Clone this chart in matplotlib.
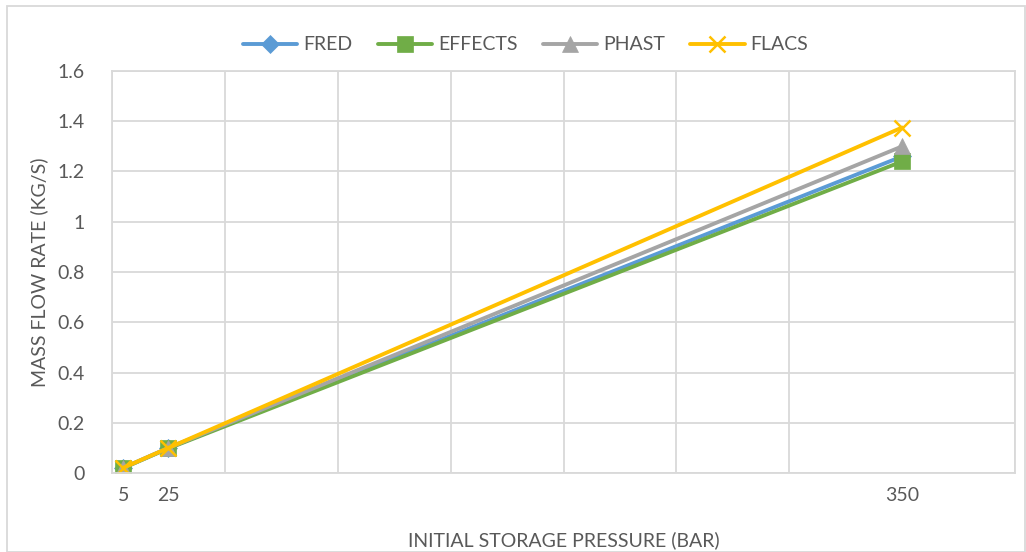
import numpy as np
import matplotlib.pyplot as plt
from matplotlib.patches import Rectangle

plt.rcParams['font.family'] = ['Lato', 'DejaVu Sans']

# data
pressure = [5, 25, 350]
fred = [0.02, 0.10, 1.26]
effects = [0.02, 0.098, 1.24]
phast = [0.021, 0.10, 1.30]
flacs = [0.021, 0.10, 1.375]

series = [
    ("FRED", fred, '#5B9BD5', 'D', 9),
    ("EFFECTS", effects, '#70AD47', 's', 11),
    ("PHAST", phast, '#A5A5A5', '^', 11),
    ("FLACS", flacs, '#FFC000', 'x', 11),
]

txt = '#595959'
fig = plt.figure(figsize=(10.26, 5.52), dpi=100)
ax = fig.add_axes([0.1092, 0.1431, 0.8801, 0.7283])

for name, vals, col, mk, ms in series:
    ax.plot(pressure, vals, color=col, lw=2.8, marker=mk, markersize=ms,
            markeredgewidth=1.8 if mk == 'x' else 0.5, markeredgecolor=col,
            label=name, solid_capstyle='round')

ax.set_xlim(0, 400)
ax.set_ylim(0, 1.6)
ax.set_xticks(pressure)
ax.set_xticks(np.arange(0, 401, 50), minor=True)
ax.set_yticks(np.arange(0, 1.61, 0.2))
ax.set_yticklabels(['0', '0.2', '0.4', '0.6', '0.8', '1', '1.2', '1.4', '1.6'])
ax.grid(True, which='minor', axis='x', color='#D9D9D9', lw=1.3)
ax.grid(True, which='major', axis='y', color='#D9D9D9', lw=1.3)
ax.set_axisbelow(True)
ax.tick_params(which='both', length=0, labelsize=14, colors=txt)
ax.tick_params(axis='y', pad=20)
ax.tick_params(axis='x', pad=10)
for s in ax.spines.values():
    s.set_color('#D9D9D9')
    s.set_linewidth(1.3)

ax.set_xlabel("INITIAL STORAGE PRESSURE (BAR)", fontsize=14, color=txt, labelpad=20)
ax.set_ylabel("MASS FLOW RATE (KG/S)", fontsize=14, color=txt, labelpad=6)

ax.legend(loc='lower center', bbox_to_anchor=(0.458, 1.0), ncol=4, frameon=False,
          fontsize=14, labelcolor=txt, handlelength=2.8, columnspacing=1.3,
          handletextpad=0.3, borderaxespad=0.5)

fig.patches.append(Rectangle((0.0068, 0.0), 0.992, 0.989, transform=fig.transFigure,
                             fill=False, edgecolor='#D9D9D9', lw=1.3))

fig.savefig('out.png', dpi=100)
